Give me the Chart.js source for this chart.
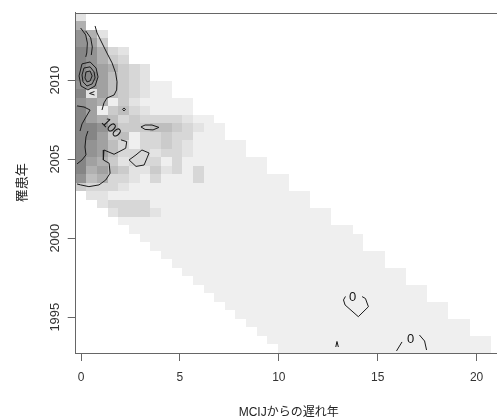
<!DOCTYPE html>
<html>
<head>
<meta charset="utf-8">
<script src="https://cdn.jsdelivr.net/npm/chart.js@4.4.1/dist/chart.umd.min.js"></script>
<style>
  html, body { margin: 0; padding: 0; background: #fff; overflow: hidden; }
  #wrap { width: 497px; height: 420px; overflow: hidden; }
</style>
</head>
<body>
<div id="wrap"><canvas id="chart" width="505" height="420"></canvas></div>
<script>
// axis ticks
const xTicks = [0, 5, 10, 15, 20];
const yTicks = [1995, 2000, 2005, 2010];

// 40 x 40 interpolation grid: delay 0..21, year 1993..2014 (rows listed top to bottom)
const cellX = Array.from({ length: 40 }, (_, i) => i * 21 / 39);
const cellY = Array.from({ length: 40 }, (_, k) => 2014 - k * 21 / 39);

// first / last filled column of each row
const firstCol = [0,0,0,0,0,0,0,0,0,0,0,0,0,0,0,0,0,0,0,0,0,
                  1,2,3,4,5,6,7,8,9,10,11,12,13,14,15,16,17,18,19];
const lastCol = [0,0,2,2,4,4,6,6,8,8,10,10,12,13,13,15,15,17,17,19,
                 19,21,21,23,23,25,26,26,28,28,30,30,32,32,34,34,36,36,38,38];

// shade level of each cell (1 = lightest), starting at firstCol; missing = 1
const shadeRows = [
  "2",
  "6",
  "862",
  "874",
  "98632",
  "98643",
  "9876432",
  "9975432",
  "887543211",
  "927543211",
  "87614211111",
  "97145321111",
  "9765343333211",
  "99864445543211",
  "99745133433111",
  "9875313343211111",
  "9875333233211111",
  "976423331311111111",
  "967542242313111111",
  "85633213111311111111",
  "4333211111",
  "2211",
  "23333",
  "23332"
];

// contour lines (delay, year)
const contour100a = [
  {x:0.71,y:2013.43},{x:0.81,y:2012.99},{x:1.06,y:2012.35},{x:1.31,y:2011.72},
  {x:1.57,y:2011.09},{x:1.75,y:2010.46},{x:1.82,y:2009.89},{x:1.80,y:2009.38},
  {x:1.67,y:2009.06},{x:1.31,y:2008.87},{x:1.16,y:2008.56},{x:1.06,y:2008.11}
];
const contour100b = [
  {x:2.02,y:2006.22},{x:2.31,y:2006.11},{x:2.26,y:2005.69},{x:1.67,y:2005.31},
  {x:1.16,y:2005.58},{x:1.13,y:2004.95},{x:1.42,y:2004.74},{x:1.47,y:2004.11},
  {x:1.25,y:2003.68},{x:0.91,y:2003.37},{x:0.40,y:2003.26},{x:-0.02,y:2003.37},
  {x:-0.20,y:2003.43}
];
const contourTopA = [
  {x:-0.02,y:2013.30},{x:0.24,y:2012.86},{x:0.32,y:2012.35},{x:0.29,y:2011.72},{x:0.24,y:2011.47}
];
const contourTopB = [
  {x:0.24,y:2013.11},{x:0.49,y:2012.67},{x:0.57,y:2012.10},{x:0.52,y:2011.59}
];
const knot1 = [
  {x:0.05,y:2011.03},{x:0.46,y:2011.15},{x:0.76,y:2010.77},{x:0.86,y:2010.20},
  {x:0.71,y:2009.63},{x:0.35,y:2009.38},{x:0.00,y:2009.63},{x:-0.10,y:2010.27},
  {x:0.05,y:2011.03}
];
const knot2 = [
  {x:0.15,y:2010.77},{x:0.46,y:2010.84},{x:0.66,y:2010.52},{x:0.71,y:2010.14},
  {x:0.56,y:2009.76},{x:0.30,y:2009.63},{x:0.10,y:2009.89},{x:0.05,y:2010.33},
  {x:0.15,y:2010.77}
];
const knot3 = [
  {x:0.25,y:2010.52},{x:0.46,y:2010.58},{x:0.56,y:2010.27},{x:0.46,y:2009.95},
  {x:0.30,y:2009.89},{x:0.20,y:2010.14},{x:0.25,y:2010.52}
];
const contourLowA = [
  {x:-0.20,y:2008.37},{x:0.15,y:2008.30},{x:0.46,y:2008.11},{x:0.25,y:2007.67},
  {x:0.05,y:2007.23},{x:-0.05,y:2006.78}
];
const contourLowB = [
  {x:0.35,y:2006.78},{x:0.25,y:2006.41},{x:0.20,y:2005.77},{x:0.25,y:2005.27},
  {x:0.05,y:2004.95},{x:-0.20,y:2004.70}
];
const wedge = [{x:0.68,y:2009.28},{x:0.43,y:2009.16},{x:0.68,y:2009.06}];
const diamond = [
  {x:2.10,y:2008.15},{x:2.17,y:2008.24},{x:2.25,y:2008.15},{x:2.17,y:2008.05},{x:2.10,y:2008.15}
];
const ellipse = [
  {x:3.03,y:2007.04},{x:3.24,y:2007.16},{x:3.59,y:2007.16},{x:3.94,y:2007.01},
  {x:3.64,y:2006.85},{x:3.24,y:2006.88},{x:3.03,y:2007.04}
];
const polygon = [
  {x:2.43,y:2004.95},{x:2.78,y:2005.27},{x:3.08,y:2005.58},{x:3.44,y:2005.39},
  {x:3.34,y:2005.08},{x:3.19,y:2004.63},{x:2.78,y:2004.54},{x:2.43,y:2004.95}
];
const zeroA = [
  {x:13.37,y:1996.31},{x:13.27,y:1996.09},{x:13.35,y:1995.77},{x:14.02,y:1995.03},
  {x:14.53,y:1995.66},{x:14.38,y:1996.18},{x:14.21,y:1996.30}
];
const zeroBleft = [{x:15.95,y:1992.86},{x:16.23,y:1993.43}];
const zeroBright = [{x:17.11,y:1993.87},{x:17.37,y:1993.49},{x:17.47,y:1992.92}];
const peak = [{x:12.88,y:1993.11},{x:12.94,y:1993.46},{x:13.01,y:1993.11}];

const contours = [contour100a, contour100b, contourTopA, contourTopB, knot1, knot2, knot3,
  contourLowA, contourLowB, wedge, diamond, ellipse, polygon, zeroA, zeroBleft, zeroBright, peak];

// contour labels
const labelText = ['100', '0', '0'];
const labelX = [1.52, 13.73, 16.66];
const labelY = [2006.97, 1996.22, 1993.56];
const labelAngle = [46, 0, 0];

const shade = {
  '1': '#efefef', '2': '#e3e3e3', '3': '#d7d7d7', '4': '#cbcbcb', '5': '#bebebe',
  '6': '#b0b0b0', '7': '#a1a1a1', '8': '#939393', '9': '#858585'
};
const FONT = '"Liberation Sans", Arial, "Noto Sans CJK JP", sans-serif';
const half = 21 / 78;

const heatPlugin = {
  id: 'heat',
  beforeDatasetsDraw(chart) {
    const { ctx, scales: { x, y } } = chart;
    ctx.save();
    for (let k = 0; k < 40; k++) {
      const row = shadeRows[k] || '';
      for (let i = firstCol[k]; i <= lastCol[k]; i++) {
        const lv = row[i - firstCol[k]] || '1';
        const x0 = Math.round(x.getPixelForValue(cellX[i] - half));
        const x1 = Math.round(x.getPixelForValue(cellX[i] + half));
        const y0 = Math.round(y.getPixelForValue(cellY[k] + half));
        const y1 = Math.round(y.getPixelForValue(cellY[k] - half));
        ctx.fillStyle = shade[lv];
        ctx.fillRect(x0, y0, x1 - x0, y1 - y0);
      }
    }
    ctx.restore();
  },
  afterDatasetsDraw(chart) {
    const { ctx, chartArea, scales: { x, y } } = chart;
    ctx.save();
    ctx.fillStyle = '#111';
    ctx.font = '13px ' + FONT;
    ctx.textAlign = 'center';
    ctx.textBaseline = 'middle';
    labelText.forEach((t, n) => {
      ctx.save();
      ctx.translate(x.getPixelForValue(labelX[n]), y.getPixelForValue(labelY[n]));
      ctx.rotate(labelAngle[n] * Math.PI / 180);
      ctx.fillText(t, 0, 0);
      ctx.restore();
    });
    // box top edge
    ctx.strokeStyle = '#666';
    ctx.lineWidth = 1;
    ctx.beginPath();
    ctx.moveTo(chartArea.left, Math.round(chartArea.top) + 0.5);
    ctx.lineTo(chartArea.right, Math.round(chartArea.top) + 0.5);
    ctx.stroke();
    // rotated y tick labels
    ctx.fillStyle = '#333';
    ctx.font = '13px ' + FONT;
    yTicks.forEach(v => {
      ctx.save();
      ctx.translate(55, y.getPixelForValue(v));
      ctx.rotate(-Math.PI / 2);
      ctx.fillText(String(v), 0, 0);
      ctx.restore();
    });
    ctx.restore();
  }
};

new Chart(document.getElementById('chart'), {
  type: 'line',
  data: {
    datasets: contours.map(c => ({
      data: c,
      borderColor: '#1a1a1a',
      borderWidth: 1,
      pointRadius: 0,
      fill: false,
      tension: 0
    }))
  },
  options: {
    responsive: false,
    animation: false,
    layout: { padding: { top: 12.7, right: 3.3, bottom: 0, left: 0 } },
    plugins: { legend: { display: false }, tooltip: { enabled: false } },
    scales: {
      x: {
        type: 'linear',
        min: -half,
        max: 21 + half,
        afterBuildTicks: s => { s.ticks = xTicks.map(v => ({ value: v })); },
        afterFit: s => { s.height = 67; },
        ticks: { color: '#333', font: { size: 12, family: FONT }, padding: 9, maxRotation: 0 },
        grid: { drawOnChartArea: false, tickLength: 8, color: '#666' },
        border: { display: true, color: '#666' },
        title: { display: true, text: 'MCIJからの遅れ年', color: '#222',
                 font: { size: 12, family: FONT }, padding: { top: 0, bottom: 0 } }
      },
      y: {
        type: 'linear',
        min: 1993 - half,
        max: 2014 + half,
        afterBuildTicks: s => { s.ticks = yTicks.map(v => ({ value: v })); },
        afterFit: s => { s.width = 75.7; },
        ticks: { display: false },
        grid: { drawOnChartArea: false, tickLength: 8, color: '#666' },
        border: { display: true, color: '#666' },
        title: { display: true, text: '罹患年', color: '#222',
                 font: { size: 13, family: FONT }, padding: { top: 15, bottom: 0 } }
      }
    }
  },
  plugins: [heatPlugin]
});
</script>
</body>
</html>
